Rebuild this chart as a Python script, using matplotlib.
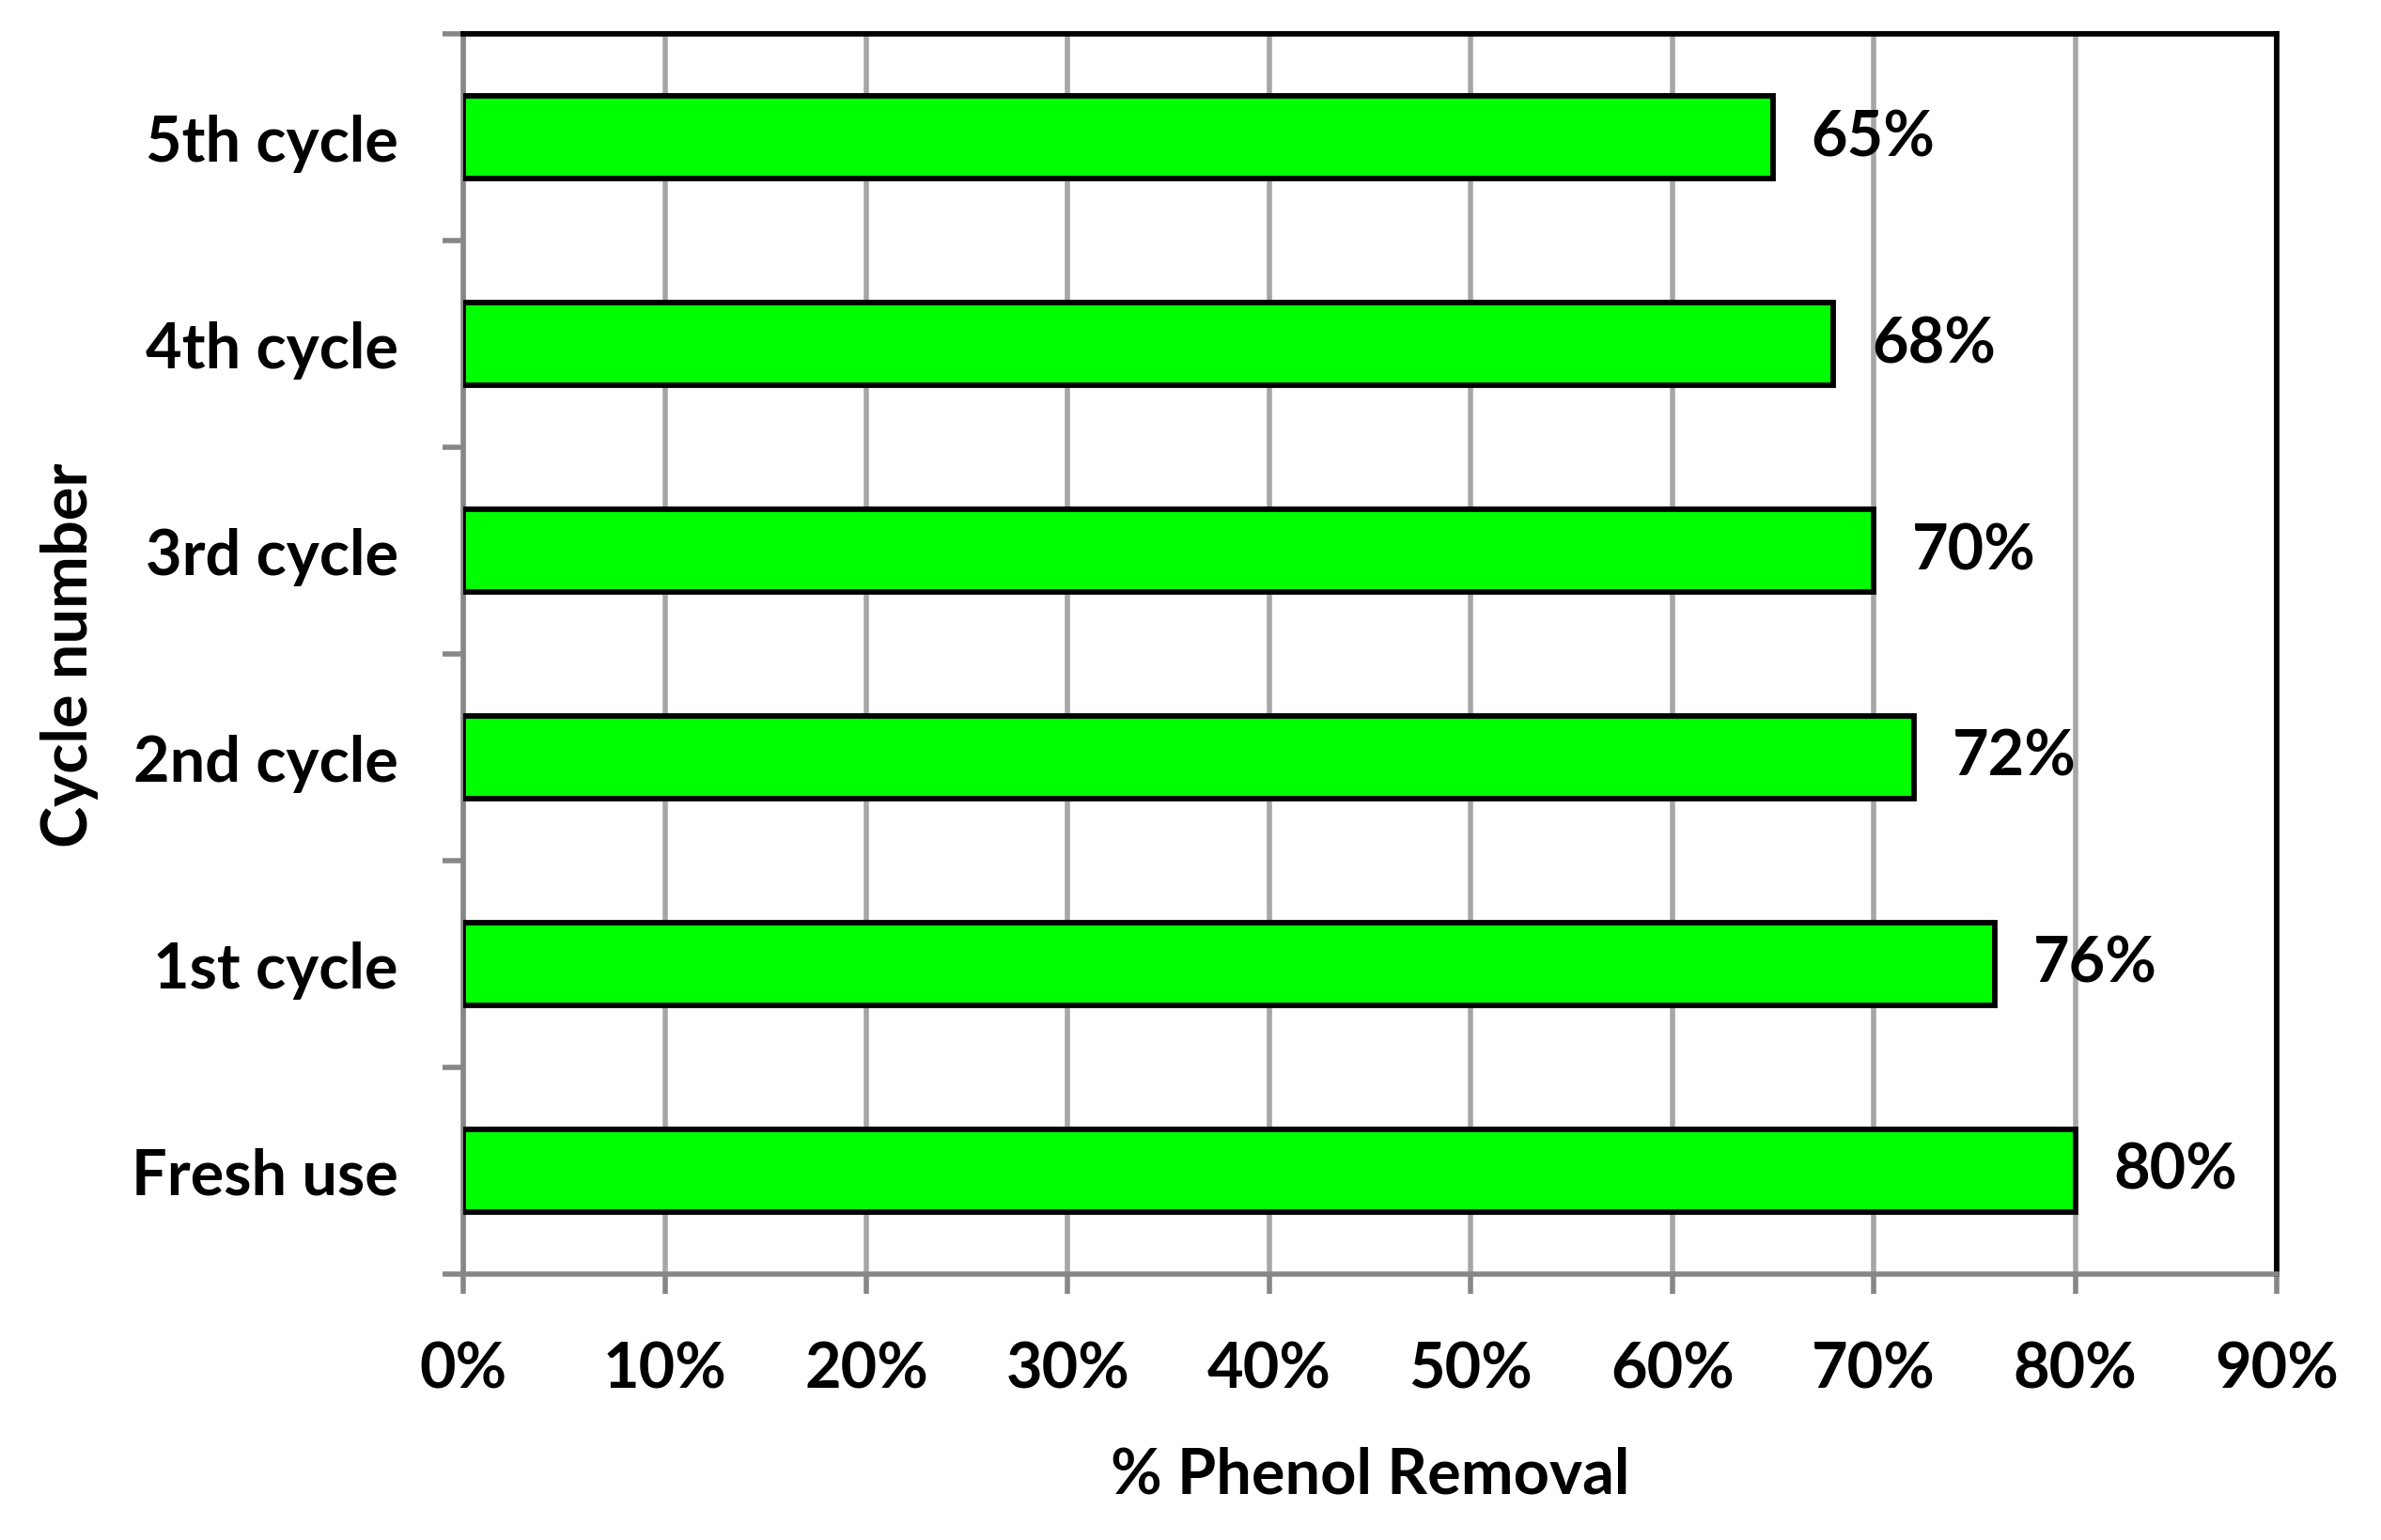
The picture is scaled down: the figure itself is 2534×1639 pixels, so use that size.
import matplotlib.pyplot as plt
import numpy as np

# data
categories = ["Fresh use", "1st cycle", "2nd cycle", "3rd cycle", "4th cycle", "5th cycle"]
removal = [80, 76, 72, 70, 68, 65]
x_ticks = [0, 10, 20, 30, 40, 50, 60, 70, 80, 90]

FONT = "Lato"
FS = 48
GRAY = "#878787"

fig = plt.figure(figsize=(25.34, 16.4), dpi=100)
ax = fig.add_axes([0.1946, 0.1726, 0.9562 - 0.1946, 0.9774 - 0.1726])

y = np.arange(len(categories))
ax.barh(y, removal, height=0.4, color="#00FF00", edgecolor="black",
        linewidth=4.2, zorder=3)

for yi, v in zip(y, removal):
    ax.text(v + 1.9, yi, f"{v}%", ha="left", va="center", fontsize=FS,
            fontweight="bold", family=FONT, zorder=4)

ax.set_xlim(0, 90)
ax.set_ylim(-0.5, len(categories) - 0.5)

ax.set_xticks(x_ticks)
ax.set_xticklabels([f"{t}%" for t in x_ticks], fontsize=FS, fontweight="bold",
                   family=FONT)
ax.xaxis.grid(True, color="#a6a6a6", linewidth=4, zorder=0)
ax.set_axisbelow(True)

# boundary ticks, labels in between
ax.set_yticks(np.arange(-0.5, len(categories), 1.0))
ax.set_yticklabels([])
ax.set_yticks(y, minor=True)
ax.set_yticklabels(categories, minor=True, fontsize=FS, fontweight="bold",
                   family=FONT)
ax.tick_params(axis="y", which="minor", length=0, pad=50)
ax.tick_params(axis="y", which="major", length=16, width=4, color=GRAY,
               direction="out")
ax.tick_params(axis="x", which="major", length=15, width=4, color=GRAY,
               direction="out", pad=36)

for side in ("left", "bottom"):
    ax.spines[side].set_color(GRAY)
    ax.spines[side].set_linewidth(4)
for side in ("top", "right"):
    ax.spines[side].set_color("black")
    ax.spines[side].set_linewidth(4.2)

ax.set_xlabel("% Phenol Removal", fontsize=FS, fontweight="bold", family=FONT,
              labelpad=36)
ax.set_ylabel("Cycle number", fontsize=FS, fontweight="bold", family=FONT)
ax.yaxis.set_label_coords(-0.201, 0.5)

fig.savefig("out.png", dpi=100, facecolor="white")
